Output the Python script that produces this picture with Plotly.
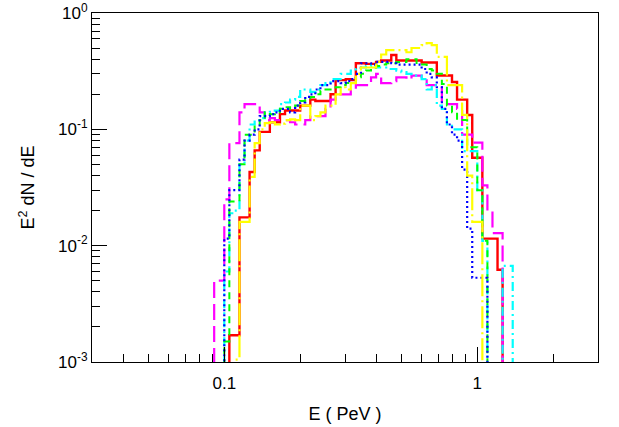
import plotly.graph_objects as go

# histogram bin edges, log10(E / PeV)
log_edges = [-1.06, -1.04, -1.02, -1.00, -0.98, -0.96, -0.94, -0.92, -0.90, -0.88,
             -0.86, -0.84, -0.82, -0.80, -0.78, -0.76, -0.74, -0.72, -0.70, -0.68,
             -0.66, -0.64, -0.62, -0.60, -0.58, -0.56, -0.54, -0.52, -0.50, -0.48,
             -0.46, -0.44, -0.42, -0.40, -0.38, -0.36, -0.34, -0.32, -0.30, -0.28,
             -0.26, -0.24, -0.22, -0.20, -0.18, -0.16, -0.14, -0.12, -0.10, -0.08,
             -0.06, -0.04, -0.02, 0.00, 0.02, 0.04, 0.06, 0.08, 0.10, 0.12,
             0.14, 0.16, 0.18]

red = [0, 0, 0, 0, 0.0017, 0.0017, 0.0175, 0.0175, 0.043, 0.066,
       0.095, 0.095, 0.115, 0.115, 0.135, 0.145, 0.145, 0.145, 0.16, 0.16,
       0.18, 0.175, 0.175, 0.175, 0.20, 0.265, 0.265, 0.27, 0.265, 0.37,
       0.37, 0.365, 0.365, 0.38, 0.39, 0.39, 0.435, 0.39, 0.39, 0.39,
       0.39, 0.39, 0.375, 0.375, 0.375, 0.29, 0.29, 0.29, 0.255, 0.18,
       0.18, 0.133, 0.057, 0.057, 0.0115, 0.0115, 0.0115, 0.0062, 0, 0,
       0, 0]

yellow = [0, 0, 0, 0, 0, 0.00105, 0.016, 0.016, 0.039, 0.076,
          0.10, 0.113, 0.115, 0.11, 0.112, 0.12, 0.122, 0.12, 0.16, 0.16,
          0.12, 0.13, 0.14, 0.16, 0.16, 0.20, 0.23, 0.22, 0.25, 0.30,
          0.34, 0.34, 0.34, 0.38, 0.44, 0.48, 0.48, 0.48, 0.48, 0.46,
          0.50, 0.50, 0.53, 0.55, 0.53, 0.42, 0.42, 0.24, 0.24, 0.24,
          0.133, 0.04, 0.016, 0.016, 0, 0, 0, 0, 0, 0,
          0, 0]

green = [0, 0, 0, 0.0015, 0.024, 0.024, 0.05, 0.09, 0.09, 0.11,
         0.12, 0.14, 0.135, 0.14, 0.15, 0.155, 0.15, 0.16, 0.175, 0.18,
         0.19, 0.20, 0.215, 0.22, 0.22, 0.23, 0.24, 0.25, 0.25, 0.28,
         0.30, 0.32, 0.34, 0.35, 0.36, 0.37, 0.37, 0.38, 0.38, 0.40,
         0.40, 0.36, 0.36, 0.33, 0.32, 0.30, 0.245, 0.16, 0.14, 0.12,
         0.12, 0.07, 0.07, 0.03, 0.011, 0, 0, 0, 0, 0,
         0, 0]

blue = [0, 0, 0, 0.0115, 0.03, 0.03, 0.055, 0.08, 0.09, 0.10,
        0.13, 0.13, 0.135, 0.14, 0.15, 0.15, 0.14, 0.16, 0.17, 0.19,
        0.20, 0.22, 0.24, 0.24, 0.26, 0.26, 0.25, 0.26, 0.27, 0.30,
        0.37, 0.37, 0.36, 0.38, 0.38, 0.38, 0.37, 0.36, 0.36, 0.36,
        0.36, 0.36, 0.33, 0.30, 0.28, 0.23, 0.15, 0.11, 0.09, 0.08,
        0.045, 0.014, 0.0053, 0.0053, 0.0053, 0, 0, 0, 0, 0,
        0, 0]

cyan = [0, 0, 0, 0.006, 0.019, 0.02, 0.05, 0.08, 0.11, 0.12,
        0.125, 0.14, 0.145, 0.145, 0.165, 0.17, 0.18, 0.19, 0.22, 0.22,
        0.21, 0.22, 0.24, 0.25, 0.27, 0.27, 0.30, 0.30, 0.32, 0.33,
        0.34, 0.35, 0.36, 0.34, 0.34, 0.33, 0.33, 0.32, 0.31, 0.30,
        0.29, 0.29, 0.27, 0.22, 0.24, 0.16, 0.15, 0.11, 0.10, 0.10,
        0.065, 0.065, 0.065, 0.03, 0.011, 0, 0, 0, 0.0067, 0.0067,
        0, 0]

magenta = [0, 0.005, 0.005, 0.025, 0.076, 0.076, 0.14, 0.165, 0.165, 0.165,
           0.14, 0.12, 0.125, 0.12, 0.12, 0.12, 0.115, 0.11, 0.11, 0.12,
           0.13, 0.13, 0.13, 0.15, 0.18, 0.20, 0.20, 0.20, 0.22, 0.24,
           0.24, 0.24, 0.28, 0.30, 0.25, 0.25, 0.26, 0.28, 0.28, 0.27,
           0.29, 0.29, 0.27, 0.24, 0.24, 0.24, 0.165, 0.165, 0.165, 0.15,
           0.09, 0.09, 0.077, 0.077, 0.033, 0.02, 0.0128, 0.0128, 0, 0,
           0, 0]

x_major = [0.1, 1]
x_major_text = ["0.1", "1"]
x_minor = [0.03, 0.04, 0.05, 0.06, 0.07, 0.08, 0.09,
           0.2, 0.3, 0.4, 0.5, 0.6, 0.7, 0.8, 0.9, 2, 3]
y_major = [0.001, 0.01, 0.1, 1]
y_major_text = ["10<sup>-3</sup>", "10<sup>-2</sup>", "10<sup>-1</sup>", "10<sup>0</sup>"]
y_minor = [2e-3, 3e-3, 4e-3, 5e-3, 6e-3, 7e-3, 8e-3, 9e-3,
           2e-2, 3e-2, 4e-2, 5e-2, 6e-2, 7e-2, 8e-2, 9e-2,
           0.2, 0.3, 0.4, 0.5, 0.6, 0.7, 0.8, 0.9]

FLOOR = 1e-6  # empty bins drawn below the visible range

series = [
    ("red", red, "#ff0000", "solid", 2.4),
    ("magenta", magenta, "#ff00ff", "16px,6px", 2.2),
    ("cyan", cyan, "#00ffff", "9px,4px,2px,4px", 2.2),
    ("green", green, "#00ff00", "7px,5px", 2.0),
    ("blue", blue, "#0000ff", "2px,3px", 2.2),
    ("yellow", yellow, "#ffff00", "22px,4px,2px,4px", 2.2),
]

fig = go.Figure()
xs = [10 ** e for e in log_edges]
for name, vals, col, dash, w in series:
    ys = [v if v > 0 else FLOOR for v in vals]
    ys = ys + [ys[-1]]
    fig.add_trace(go.Scatter(x=xs, y=ys, mode="lines", line_shape="hv",
                             line=dict(color=col, dash=dash, width=w),
                             name=name, showlegend=False, hoverinfo="skip"))

font = dict(family="Liberation Sans, Arial, sans-serif", size=18, color="black")
tfont = dict(family="Liberation Sans, Arial, sans-serif", size=17, color="black")

fig.update_layout(
    width=619, height=427,
    margin=dict(l=92, r=21, t=13, b=65),
    paper_bgcolor="white", plot_bgcolor="white",
    font=tfont,
    xaxis=dict(type="log", range=[-1.5229, 0.4771], automargin=False,
               showline=True, linecolor="black", linewidth=1, mirror=True,
               showgrid=False, zeroline=False,
               ticks="inside", ticklen=15, tickwidth=1, tickcolor="black",
               tickmode="array", tickvals=x_major, ticktext=x_major_text,
               tickfont=tfont, ticklabelstandoff=6, ticklabeloverflow="allow",
               minor=dict(ticks="inside", ticklen=8, tickwidth=1, tickcolor="black",
                          tickmode="array", tickvals=x_minor, showgrid=False),
               title=dict(text="E ( PeV )", font=font, standoff=14)),
    yaxis=dict(type="log", range=[-3, 0], automargin=False,
               showline=True, linecolor="black", linewidth=1, mirror=True,
               showgrid=False, zeroline=False,
               ticks="inside", ticklen=15, tickwidth=1, tickcolor="black",
               tickmode="array", tickvals=y_major, ticktext=y_major_text,
               tickfont=tfont, ticklabeloverflow="allow",
               minor=dict(ticks="inside", ticklen=8, tickwidth=1, tickcolor="black",
                          tickmode="array", tickvals=y_minor, showgrid=False),
               title=dict(text="E<sup>2</sup> dN / dE", font=font, standoff=18)),
)

fig.write_html("out.html", config={"displayModeBar": False},
               post_script="document.body.style.margin='0px';document.body.style.overflow='hidden';")
